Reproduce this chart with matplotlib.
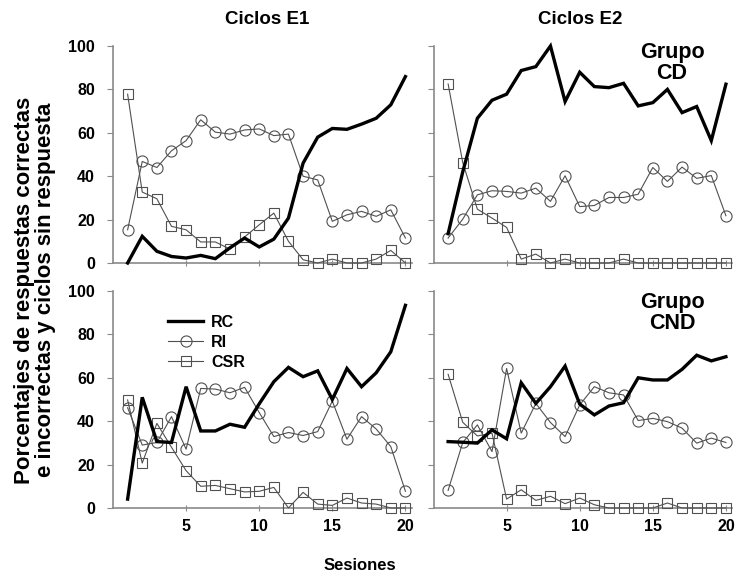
import matplotlib
matplotlib.use("Agg")
import matplotlib.pyplot as plt

plt.rcParams['font.family'] = ['Liberation Sans', 'DejaVu Sans']
plt.rcParams['font.weight'] = 'bold'

sessions = list(range(1, 21))

# Grupo CD - Ciclos E1
cd_e1_rc = [0, 12.3, 5.4, 3, 2.3, 3.5, 2, 7, 11.5, 7.4, 11, 20.7, 46, 58, 62, 61.6, 64, 66.7, 72.9, 85.9]
cd_e1_ri = [15.3, 46.8, 44, 51.7, 56.4, 66, 60.3, 59.4, 61.3, 61.8, 58.7, 59.4, 40, 38.3, 19.2, 22.2, 23.8, 21.5, 24.5, 11.5]
cd_e1_csr = [77.8, 32.7, 29.6, 16.9, 15.3, 9.7, 9.7, 6.4, 12, 17.6, 23, 10, 1.5, 0, 1.8, 0, 0, 1.8, 5.8, 0]

# Grupo CD - Ciclos E2
cd_e2_rc = [13.5, 42, 66.7, 75, 77.8, 88.7, 90.5, 100, 74.4, 87.9, 81.3, 80.8, 82.8, 72.4, 73.9, 80, 69.3, 72.1, 56.4, 82.4]
cd_e2_ri = [11.5, 20.2, 31.4, 33.3, 33, 32.2, 34.5, 28.4, 40.2, 26, 26.5, 30.2, 30.2, 31.7, 44, 37.6, 44.2, 39, 40.3, 21.8]
cd_e2_csr = [82.5, 46.3, 24.8, 20.7, 16.4, 1.8, 4.1, 0, 1.8, 0, 0, 0, 1.8, 0, 0, 0, 0, 0, 0, 0]

# Grupo CND - Ciclos E1
cnd_e1_rc = [4.1, 51, 30.6, 30.2, 55.9, 35.5, 35.5, 38.6, 37.2, 48, 58.2, 64.8, 60.5, 63.2, 50, 64.3, 55.9, 62.3, 72, 93.4]
cnd_e1_ri = [46.2, 29, 30.2, 42.1, 27.1, 55.1, 54.8, 53.1, 55.6, 44, 32.9, 34.8, 33.4, 35.2, 49.3, 31.7, 42.1, 36.4, 28.3, 7.7]
cnd_e1_csr = [49.8, 20.7, 39, 28, 17.2, 10, 10.4, 8.9, 7.4, 7.7, 9.5, 0, 7.2, 1.8, 1.2, 4.6, 2.3, 1.8, 0, 0]

# Grupo CND - Ciclos E2
cnd_e2_rc = [30.6, 30.3, 29.9, 36, 31.9, 57.7, 48.2, 55.9, 65.4, 47.9, 42.9, 47, 48.5, 60, 59, 59, 63.9, 70.4, 67.8, 69.7]
cnd_e2_ri = [8.1, 30.2, 38.3, 26, 64.3, 34.5, 48.2, 39.4, 32.9, 47.5, 55.9, 53.1, 52.1, 40.3, 41.3, 39.8, 36.8, 29.9, 32.2, 30.2]
cnd_e2_csr = [61.6, 39.5, 33.2, 34.5, 4.1, 8.4, 3.5, 5.4, 2, 4.6, 1.5, 0, 0, 0, 0, 2.3, 0, 0, 0, 0]

col_titles = ["Ciclos E1", "Ciclos E2"]
row_titles = ["Grupo\nCD", "Grupo\nCND"]
series_labels = ["RC", "RI", "CSR"]
xticks = [5, 10, 15, 20]
yticks = [0, 20, 40, 60, 80, 100]

panels = [[(cd_e1_rc, cd_e1_ri, cd_e1_csr), (cd_e2_rc, cd_e2_ri, cd_e2_csr)],
          [(cnd_e1_rc, cnd_e1_ri, cnd_e1_csr), (cnd_e2_rc, cnd_e2_ri, cnd_e2_csr)]]

W, H = 735, 576
fig = plt.figure(figsize=(W / 100, H / 100), dpi=100)

lefts = [113, 433.5]
bottoms_px = [263, 508]
width_px = 299
height_px = 217
spine_col = '#8a8a8a'
thin_col = '#505050'

axes = [[None, None], [None, None]]
for r in range(2):
    for c in range(2):
        ax = fig.add_axes([lefts[c] / W, (H - bottoms_px[r]) / H, width_px / W, height_px / H])
        axes[r][c] = ax
        rc, ri, csr = panels[r][c]
        ax.plot(sessions, ri, color=thin_col, lw=0.8, marker='o', ms=8,
                mfc='none', mec=thin_col, mew=0.8, label=series_labels[1], clip_on=False, zorder=3)
        ax.plot(sessions, csr, color=thin_col, lw=0.8, marker='s', ms=7.5,
                mfc='none', mec=thin_col, mew=0.8, label=series_labels[2], clip_on=False, zorder=3)
        ax.plot(sessions, rc, color='black', lw=2.4, label=series_labels[0],
                clip_on=False, zorder=4, solid_joinstyle='miter')
        ax.set_xlim(0, 20.45)
        ax.set_ylim(0, 100)
        for s in ['top', 'right']:
            ax.spines[s].set_visible(False)
        for s in ['left', 'bottom']:
            ax.spines[s].set_color(spine_col)
            ax.spines[s].set_linewidth(1.2)
        ax.set_xticks(xticks)
        ax.tick_params(axis='x', direction='inout', length=4, width=0.8, color=spine_col,
                       labelsize=11.5, pad=6)
        if r == 0:
            ax.tick_params(axis='x', labelbottom=False)
        ax.set_yticks(yticks)
        if c == 0:
            ax.tick_params(axis='y', direction='out', length=4, width=0.8, color=spine_col,
                           labelsize=11.5, pad=9)
        else:
            ax.tick_params(axis='y', direction='out', length=4, width=0.8, color=spine_col,
                           labelleft=False)
        for lab in ax.get_xticklabels() + ax.get_yticklabels():
            lab.set_fontweight('bold')

# column titles
fig.text(267 / W, 1 - 20 / H, col_titles[0], ha='center', va='center', fontsize=13.5, fontweight='bold')
fig.text(580 / W, 1 - 20 / H, col_titles[1], ha='center', va='center', fontsize=13.5, fontweight='bold')
# group labels
fig.text(672 / W, 1 - 63 / H, row_titles[0], ha='center', va='center', fontsize=15.5,
         fontweight='bold', linespacing=1.0)
fig.text(672 / W, 1 - 313 / H, row_titles[1], ha='center', va='center', fontsize=15.5,
         fontweight='bold', linespacing=1.0)
# axis labels
fig.text(35 / W, 1 - 290 / H, "Porcentajes de respuestas correctas\ne incorrectas y ciclos sin respuesta",
         ha='center', va='center', rotation=90, fontsize=16, fontweight='bold', linespacing=1.0)
fig.text(360 / W, 1 - 566 / H, "Sesiones", ha='center', va='center', fontsize=12, fontweight='bold')

# legend
ax = axes[1][0]
h, l = ax.get_legend_handles_labels()
order = [2, 0, 1]
leg = ax.legend([h[i] for i in order], [l[i] for i in order], loc='upper left',
                bbox_to_anchor=((168 - 113) / width_px, (508 - 315) / height_px),
                frameon=False, fontsize=11.5, handlelength=2.2, labelspacing=0.3,
                handletextpad=0.5, borderaxespad=0, borderpad=0)
for t in leg.get_texts():
    t.set_fontweight('bold')

fig.savefig("out.png", dpi=100)
